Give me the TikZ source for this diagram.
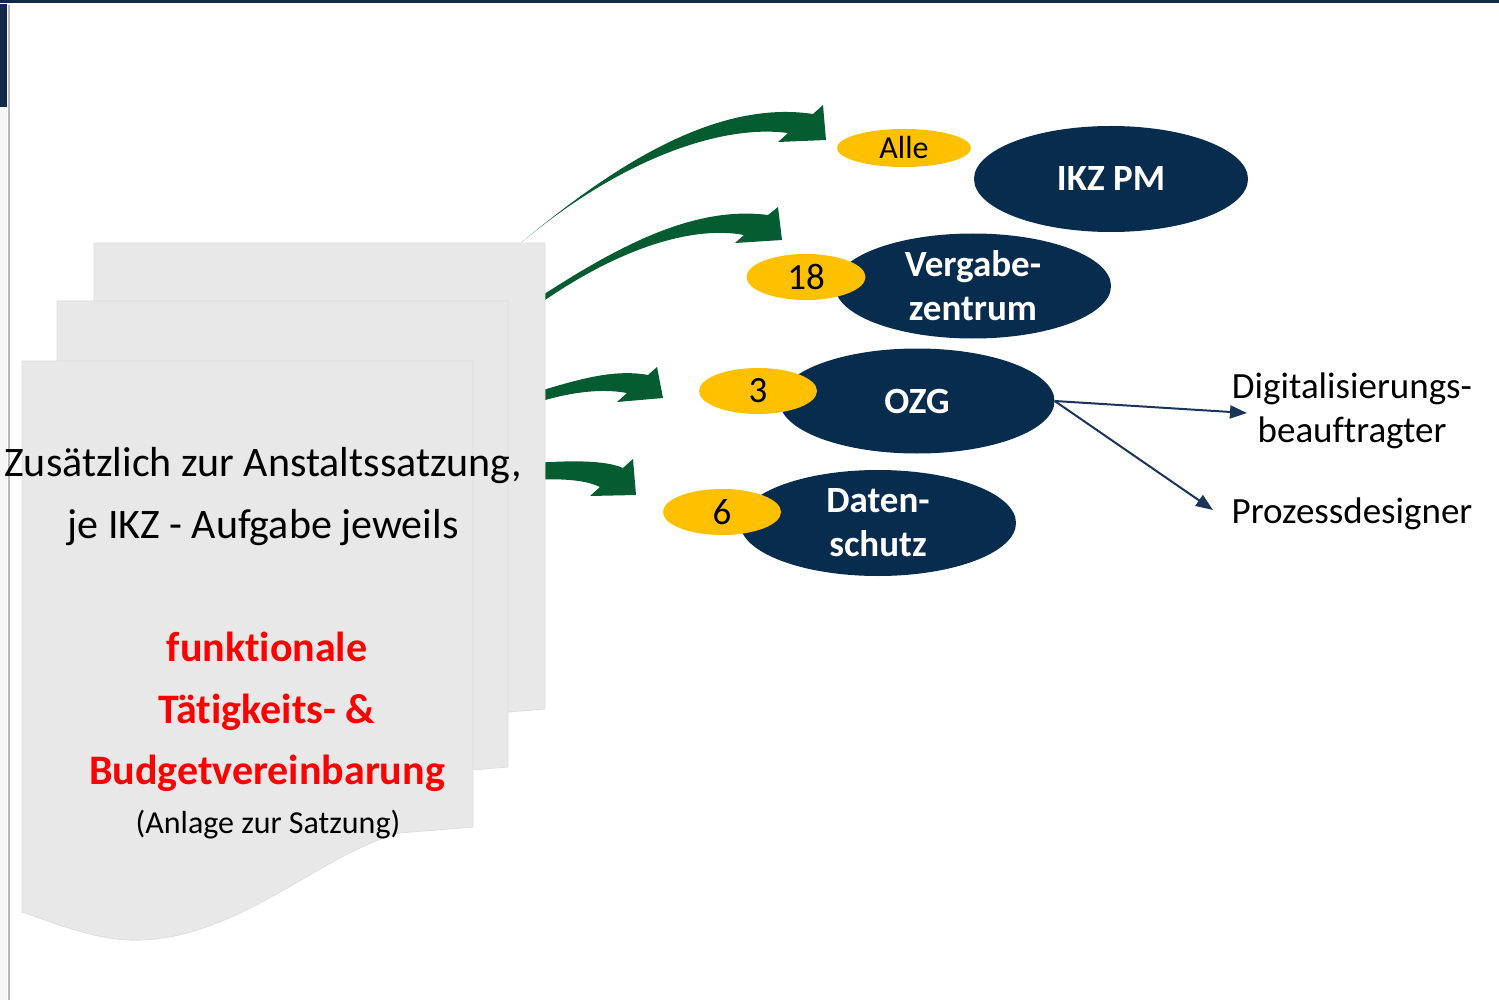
\documentclass[tikz,border=0pt]{standalone}
\usepackage{fontspec}
\setmainfont[Ligatures=NoCommon]{Carlito}
\usetikzlibrary{shapes.geometric,arrows.meta}
\definecolor{navy}{HTML}{082C4E}
\definecolor{topnavy}{HTML}{13294B}
\definecolor{gold}{HTML}{FFC000}
\definecolor{agreen}{HTML}{045C30}
\definecolor{pagefill}{HTML}{E8E8E8}
\definecolor{pageline}{HTML}{DEDEDE}
\definecolor{linenavy}{HTML}{1B355A}
\tikzset{
  pagebox/.style={fill=pagefill,draw=pageline,line width=0.8pt},
  bluebox/.style={ellipse,fill=navy,text=white,inner sep=0pt,font=\fontsize{37}{44}\selectfont\bfseries,align=center},
  goldbox/.style={ellipse,fill=gold,text=black,inner sep=0pt,font=\fontsize{37}{40}\selectfont},
  greenarrow/.style={fill=agreen,draw=none},
  sidetext/.style={font=\fontsize{37}{44}\selectfont,align=center,inner sep=0pt},
  pointer/.style={draw=linenavy,line width=2pt,-{Triangle[length=17pt,width=13pt]}}
}
\newcommand{\pageshape}{(0,0) -- (451,0) -- (451,466) -- (378,472) .. controls (300,492) and (220,575) .. (120,579) .. controls (80,581) and (40,565) .. (0,551) -- cycle}
\begin{document}
\begin{tikzpicture}[x=1pt,y=-1pt]
\useasboundingbox (0,0) rectangle (1499,1000);
% frame decoration
\fill[topnavy] (0,0) rectangle (1499,3);
\fill[gray!8] (0,107) rectangle (7,1000);
\fill[topnavy] (0,4) rectangle (7,107);
\draw[gray!55,line width=2pt] (8.5,5) -- (8.5,1000);

% green arrows (tails hidden by pages)
\fill[greenarrow] (522,242) .. controls (620,160) and (720,100) .. (813,114) -- (823,105) -- (826,140) -- (778,142) -- (788,133) .. controls (720,124) and (620,160) .. (522,242) -- cycle;
\fill[greenarrow] (520,310) .. controls (610,250) and (690,205) .. (768,215) -- (778,207) -- (782,240) -- (735,243) -- (744,235) .. controls (690,225) and (610,250) .. (520,318) -- cycle;
\fill[greenarrow] (520,397) .. controls (570,382) and (610,368) .. (648,375) -- (657,367) -- (663,398) -- (617,402) -- (627,393) .. controls (600,388) and (565,392) .. (520,408) -- cycle;
\fill[greenarrow] (520,464) .. controls (570,460) and (605,460) .. (623,468) -- (633,459) -- (636,495) -- (590,496) -- (600,487) .. controls (585,480) and (565,478) .. (520,480) -- cycle;

% stacked pages
\begin{scope}[shift={(94,243)}]
  \path[pagebox] \pageshape;
\end{scope}
\begin{scope}[shift={(57,301)}]
  \path[pagebox] \pageshape;
\end{scope}
\begin{scope}[shift={(22,361)}]
  \path[pagebox] \pageshape;
\end{scope}

% page texts
\node[font=\fontsize{42}{62}\selectfont,align=center,inner sep=0pt] (intro) at (263,497) {Zusätzlich zur Anstaltssatzung,\\je IKZ - Aufgabe jeweils};
\node[font=\fontsize{42}{61.5}\selectfont\bfseries,text={rgb,255:red,255;green,0;blue,0},align=center,inner sep=0pt] (budget) at (267,712) {funktionale\\Tätigkeits- \&\\Budgetvereinbarung};
\node[font=\fontsize{32}{38}\selectfont,inner sep=0pt] (anlage) at (268,825) {(Anlage zur Satzung)};

% ellipses
\node[bluebox,minimum width=274pt,minimum height=106pt] (ikz) at (1111,179) {IKZ PM};
\node[bluebox,minimum width=276pt,minimum height=105pt] (verg) at (973,286) {Vergabe-\\zentrum};
\node[bluebox,minimum width=275pt,minimum height=105pt] (ozg) at (917,401) {OZG};
\node[bluebox,minimum width=276pt,minimum height=106pt] (daten) at (878,523) {Daten-\\schutz};

\node[goldbox,minimum width=134pt,minimum height=38pt,font=\fontsize{32}{38}\selectfont] (alle) at (904,148) {Alle};
\node[goldbox,minimum width=119pt,minimum height=46pt] (n18) at (806,277) {18};
\node[goldbox,minimum width=118pt,minimum height=46pt] (n3) at (758,391) {3};
\node[goldbox,minimum width=118pt,minimum height=46pt] (n6) at (722,512) {6};

% side texts
\node[sidetext] (digi) at (1352,411) {Digitalisierungs-\\beauftragter};
\node[sidetext] (proz) at (1352,514) {Prozessdesigner};
\coordinate (digitip) at (1247,413);
\coordinate (proztip) at (1213,510);
\draw[pointer] (ozg.east) -- (digitip);
\draw[pointer] (ozg.east) -- (proztip);
\end{tikzpicture}
\end{document}
